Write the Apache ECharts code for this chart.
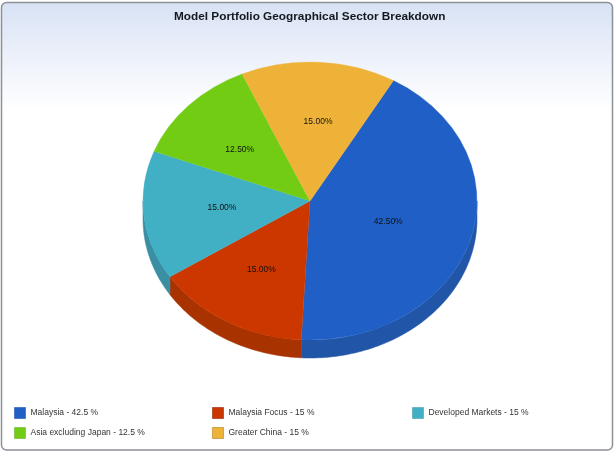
<!DOCTYPE html>
<html>
<head>
<meta charset="utf-8">
<style>html,body{margin:0;padding:0;background:#fff}#c{width:615px;height:453px}</style>
<script src="https://cdn.jsdelivr.net/npm/echarts@6/dist/echarts.min.js"></script>
</head>
<body>
<div id="c"></div>
<script>
const titleText = 'Model Portfolio Geographical Sector Breakdown';
const categories = ['Malaysia', 'Malaysia Focus', 'Developed Markets', 'Asia excluding Japan', 'Greater China'];
const values = [42.5, 15, 15, 12.5, 15];
const colors = ['#2060C6', '#CC3700', '#41B0C5', '#72CC14', '#EEB238'];
const wallColors = ['#2155A8', '#A93300', '#3A8FA3', '#5CA510', '#BF8E2C'];
const markerBorders = ['#4A7BC4', '#B5553A', '#6DB4C4', '#8CC75A', '#CFA24E'];
const labelRadii = [0.47, 0.57, 0.53, 0.58, 0.575];
const labelNudge = [[3, 2], [-1, 0], [0, -1], [0, 4], [3, 0]];
const legendPos = [[14, 407], [212, 407], [412, 407], [14, 427], [212, 427]];

const CX = 310, CY = 201, RX = 167, RY = 139, DEPTH = 18, START = 30;
const total = values.reduce((a, b) => a + b, 0);
const names = categories.map((c, i) => c + ' - ' + values[i] + ' %');
const startDeg = [];
values.reduce((acc, v, i) => { startDeg[i] = acc; return acc + v / total * 360; }, START);

function pt(deg) {
  const r = deg * Math.PI / 180;
  return [CX + RX * Math.sin(r), CY - RY * Math.cos(r)];
}
function renderSlice(i) {
  const a0 = startDeg[i], a1 = a0 + values[i] / total * 360;
  const children = [];
  const from = Math.max(a0, 90), to = Math.min(a1, 270);
  if (to > from) {
    const upper = [], lower = [];
    for (let d = from; d <= to + 1e-6; d += (to - from) / 80) {
      const p = pt(d);
      upper.push(p);
      lower.unshift([p[0], p[1] + DEPTH]);
    }
    children.push({ type: 'polygon', shape: { points: upper.concat(lower) },
      style: { fill: wallColors[i], stroke: wallColors[i], lineWidth: 0.5 } });
  }
  children.push({ type: 'sector', x: CX, y: CY, scaleY: RY / RX,
    shape: { cx: 0, cy: 0, r: RX, r0: 0,
      startAngle: (a0 - 90) * Math.PI / 180, endAngle: (a1 - 90) * Math.PI / 180, clockwise: true },
    style: { fill: colors[i], stroke: colors[i], lineWidth: 0.4 } });
  const mid = (a0 + a1) / 2 * Math.PI / 180;
  children.push({ type: 'text', z2: 20, style: {
    x: CX + RX * labelRadii[i] * Math.sin(mid) + labelNudge[i][0],
    y: CY - RY * labelRadii[i] * Math.cos(mid) + labelNudge[i][1],
    text: values[i].toFixed(2) + '%', align: 'center', verticalAlign: 'middle',
    fill: '#111', font: '8.5px "Liberation Sans"' } });
  return { type: 'group', children };
}

const option = {
  animation: false,
  backgroundColor: '#fff',
  title: { text: titleText, left: 174, top: 11, padding: 0,
    textStyle: { fontFamily: 'Liberation Sans', fontSize: 11.8, fontWeight: 'bold', color: '#14181f' } },
  graphic: [{ type: 'rect', z: -10, silent: true,
    shape: { x: 1.5, y: 2.5, width: 611, height: 447.5, r: 5 },
    style: { stroke: '#8c9097', lineWidth: 1.5,
      fill: { type: 'linear', x: 0, y: 0, x2: 0, y2: 1, colorStops: [
        { offset: 0, color: '#d8e2f5' }, { offset: 0.24, color: '#ffffff' }, { offset: 1, color: '#ffffff' }] } } }],
  legend: names.map((n, i) => ({
    left: legendPos[i][0], top: legendPos[i][1], padding: 0,
    itemWidth: 11, itemHeight: 11, itemGap: 0, selectedMode: false, icon: 'rect',
    textStyle: { fontFamily: 'Liberation Sans', fontSize: 8.5, color: '#333', padding: [0, 0, 0, 0] },
    data: [{ name: n, itemStyle: { color: colors[i], borderColor: markerBorders[i], borderWidth: 1 } }]
  })),
  series: names.map((n, i) => ({
    type: 'custom', name: n, coordinateSystem: 'none', silent: true,
    itemStyle: { color: colors[i] },
    data: [values[i]],
    renderItem: () => renderSlice(i)
  }))
};
echarts.init(document.getElementById('c'), null, { renderer: 'canvas' }).setOption(option);
</script>
</body>
</html>
